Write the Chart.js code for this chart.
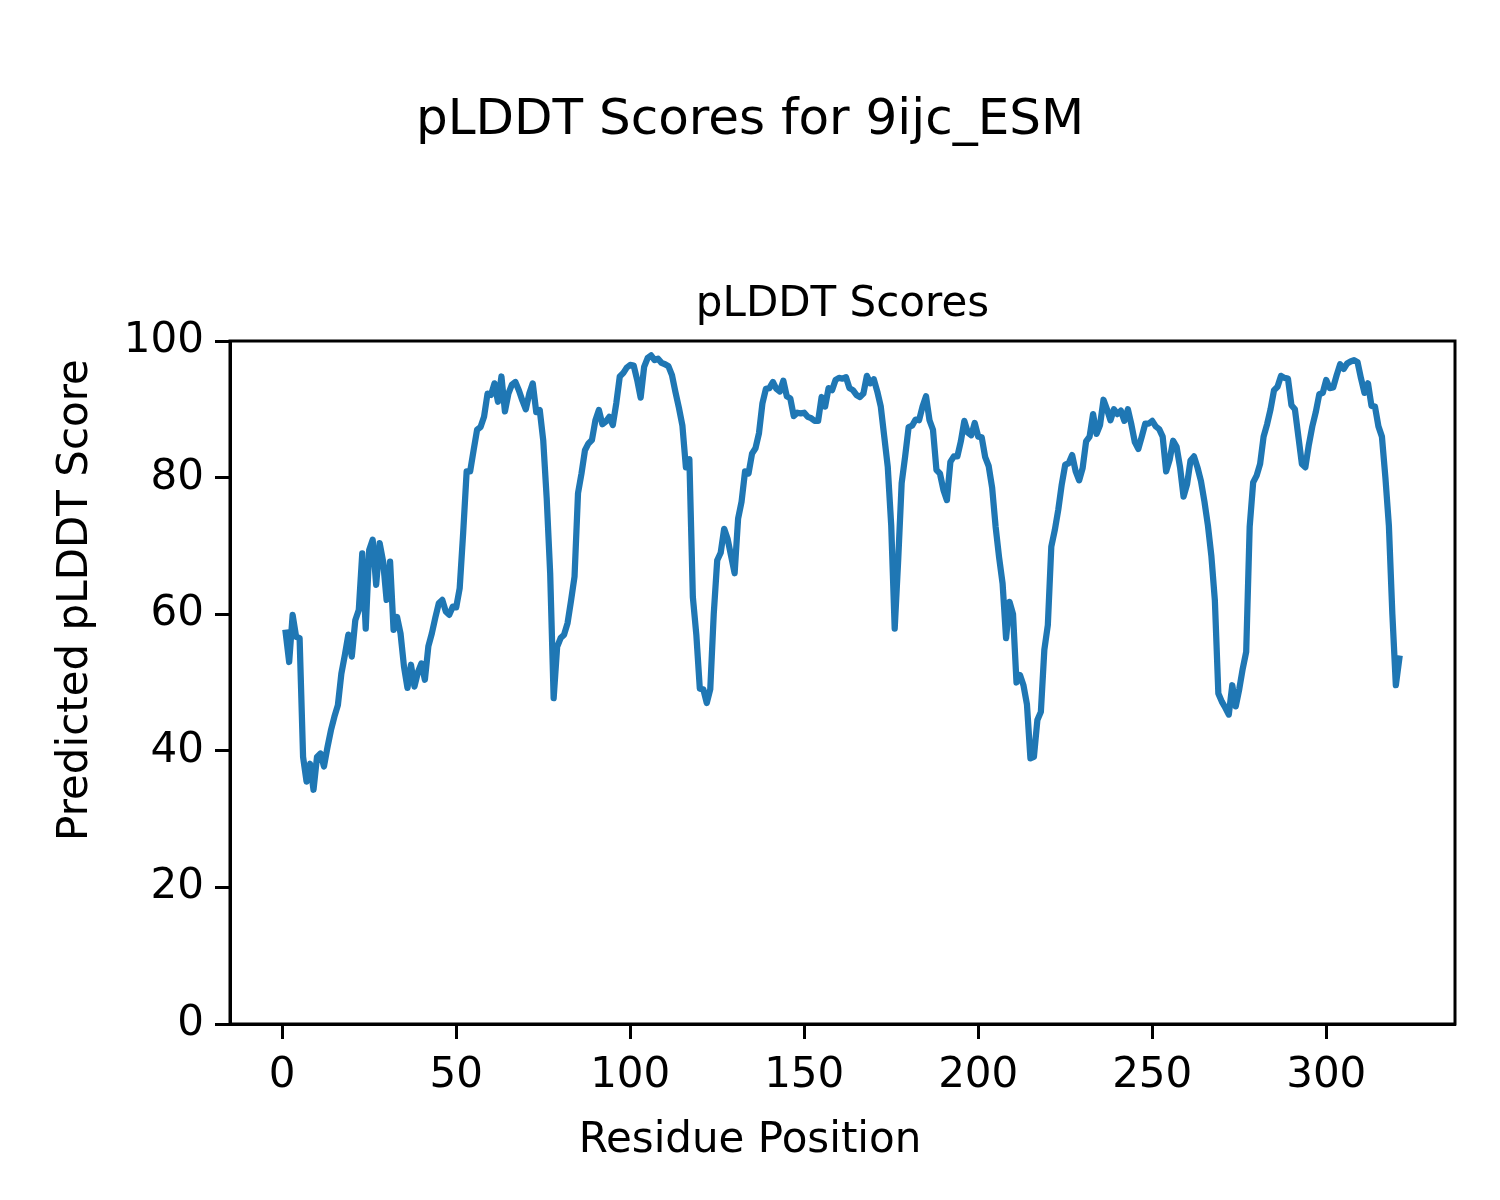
<!DOCTYPE html>
<html><head><meta charset="utf-8">
<script src="https://cdn.jsdelivr.net/npm/chart.js@4"></script>
<style>html,body{margin:0;padding:0;background:#fff}#wrap{width:1500px;height:1200px}</style>
</head><body><div id="wrap"><canvas id="c" width="1500" height="1200"></canvas></div>
<script>
const scores = [
57.3,53.0,59.9,56.7,56.5,39.1,35.5,38.1,34.3,39.1,
39.6,37.7,40.5,43.0,45.0,46.7,51.3,54.0,57.0,53.8,
59.1,60.6,68.9,57.9,69.4,70.9,64.3,70.4,67.7,62.1,
67.7,57.7,59.6,57.2,52.3,49.2,52.6,49.4,51.5,52.8,
50.4,55.3,57.2,59.5,61.6,62.1,60.4,59.9,61.1,61.0,
63.8,71.9,80.9,80.9,84.0,87.0,87.4,88.9,92.3,92.1,
93.8,91.1,94.8,89.7,92.3,93.6,94.0,92.8,91.3,90.0,
92.3,93.8,89.6,89.9,85.5,77.0,66.0,47.7,55.2,56.5,
57.0,58.7,62.0,65.5,77.7,80.6,84.0,85.0,85.5,88.4,
89.9,87.8,88.2,88.9,87.7,90.9,94.8,95.3,96.1,96.5,
96.4,94.3,91.7,96.2,97.5,97.9,97.2,97.4,96.8,96.6,
96.3,95.0,92.5,90.2,87.6,81.5,82.7,62.5,57.0,49.1,
49.0,47.0,49.0,60.0,67.9,69.0,72.5,71.0,68.5,66.0,
74.0,76.5,80.9,80.6,83.5,84.3,86.5,90.9,93.0,93.1,
94.0,93.0,92.6,94.2,91.9,91.6,89.0,89.5,89.4,89.5,
88.9,88.7,88.3,88.3,91.8,90.4,93.1,92.8,94.3,94.6,
94.5,94.7,93.1,92.8,92.1,91.8,92.3,94.9,93.8,94.4,
92.6,90.4,86.0,81.6,73.0,57.9,67.9,79.2,83.1,87.4,
87.6,88.5,88.4,90.4,91.9,88.4,87.0,81.1,80.6,78.2,
76.7,82.3,83.1,83.1,85.3,88.3,86.6,86.2,88.0,86.0,
85.9,83.0,81.7,78.5,72.8,68.3,64.5,56.5,61.8,60.0,
50.0,51.1,49.6,46.8,38.9,39.1,44.5,45.7,54.8,58.4,
69.9,72.3,75.3,79.0,81.9,82.1,83.3,80.9,79.6,81.4,
85.3,86.0,89.3,86.4,87.7,91.4,90.0,88.4,90.0,89.3,
89.8,88.3,90.0,87.8,85.2,84.2,86.0,87.9,87.9,88.3,
87.5,87.1,86.0,80.9,82.6,85.4,84.5,81.5,77.2,79.0,
82.5,83.1,81.5,79.5,76.5,73.0,68.5,62.0,48.4,47.2,
46.3,45.3,49.6,46.5,49.0,52.0,54.5,72.8,79.3,80.3,
82.0,86.0,87.8,90.0,92.8,93.3,94.9,94.6,94.5,90.6,
90.0,86.0,82.0,81.5,84.8,87.5,89.6,92.2,92.4,94.3,
93.1,93.2,95.0,96.6,95.9,96.7,97.0,97.2,96.9,94.5,
92.4,93.8,90.5,90.4,87.5,86.0,80.0,73.0,60.0,49.6,
53.5
];
const xTicks = [0,50,100,150,200,250,300];
const yTicks = [0,20,40,60,80,100];
const figTitle = 'pLDDT Scores for 9ijc_ESM';
const axTitle = 'pLDDT Scores';
const xLabel = 'Residue Position';
const yLabel = 'Predicted pLDDT Score';

const FONT = '"DejaVu Sans", "Liberation Sans", sans-serif';
const points = scores.map((v, i) => ({x: i + 1, y: v}));

const framePlugin = {
  id: 'frame',
  afterDatasetsDraw(chart) {
    const {ctx, chartArea: a} = chart;
    ctx.save();
    ctx.strokeStyle = '#000';
    ctx.lineWidth = 3;
    ctx.strokeRect(a.left, a.top, a.right - a.left, a.bottom - a.top);
    ctx.restore();
  },
  afterDraw(chart) {
    const {ctx, chartArea: a} = chart;
    ctx.save();
    ctx.fillStyle = '#000';
    ctx.textAlign = 'center';
    ctx.textBaseline = 'middle';
    ctx.font = '50px ' + FONT;
    ctx.fillText(figTitle, 750, 121);
    ctx.font = '42px ' + FONT;
    ctx.fillText(axTitle, (a.left + a.right) / 2, 305);
    ctx.fillText(xLabel, 750, 1141);
    ctx.translate(76, 600);
    ctx.rotate(-Math.PI / 2);
    ctx.fillText(yLabel, 0, 0);
    ctx.restore();
  }
};

new Chart(document.getElementById('c'), {
  type: 'line',
  data: {
    datasets: [{
      data: points,
      borderColor: '#1f77b4',
      borderWidth: 6.25,
      pointRadius: 0,
      tension: 0,
      fill: false,
      borderCapStyle: 'square',
      borderJoinStyle: 'round'
    }]
  },
  options: {
    responsive: false,
    animation: false,
    devicePixelRatio: 1,
    layout: {padding: {top: 341, right: 45, bottom: 0, left: 0}},
    plugins: {legend: {display: false}, tooltip: {enabled: false}, title: {display: false}},
    scales: {
      x: {
        type: 'linear',
        min: -15,
        max: 337,
        afterBuildTicks: s => { s.ticks = xTicks.map(v => ({value: v})); },
        afterFit: s => { s.height = 176; },
        grid: {display: true, drawOnChartArea: false, drawTicks: true, tickLength: 15, tickWidth: 3, tickColor: '#000'},
        border: {display: true, color: '#000', width: 3},
        ticks: {color: '#000', font: {family: FONT, size: 42}, padding: 12, maxRotation: 0, autoSkip: false}
      },
      y: {
        type: 'linear',
        min: 0,
        max: 100,
        afterBuildTicks: s => { s.ticks = yTicks.map(v => ({value: v})); },
        afterFit: s => { s.width = 230; },
        grid: {display: true, drawOnChartArea: false, drawTicks: true, tickLength: 15, tickWidth: 3, tickColor: '#000'},
        border: {display: true, color: '#000', width: 3},
        ticks: {color: '#000', font: {family: FONT, size: 42}, padding: 11, autoSkip: false}
      }
    }
  },
  plugins: [framePlugin]
});
</script>
</body></html>
